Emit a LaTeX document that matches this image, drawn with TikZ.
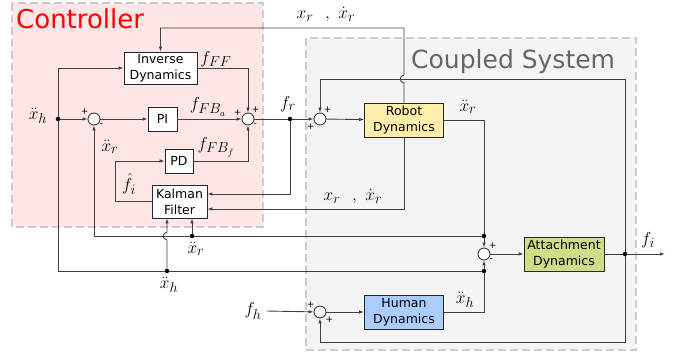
\documentclass[tikz,border=0pt]{standalone}
\usepackage{fontspec}
\usepackage{tikz}
\usetikzlibrary{shapes,arrows.meta,positioning}
\newfontfamily\dejavu{DejaVu Sans}
\definecolor{ctrlpink}{RGB}{255,230,230}
\definecolor{sysgrey}{RGB}{244,244,244}
\definecolor{zoneedge}{RGB}{204,204,204}
\definecolor{robotyellow}{RGB}{255,238,170}
\definecolor{humanblue}{RGB}{170,204,255}
\definecolor{attachgreen}{RGB}{205,222,135}
\definecolor{wiregrey}{RGB}{64,64,64}
\tikzstyle{block} = [rectangle, draw=black!85, fill=white, line width=0.8pt, align=center, inner sep=0pt, font=\dejavu\fontsize{12.5}{16}\selectfont]
\tikzstyle{sum} = [circle, draw=black!85, fill=white, line width=0.8pt, minimum size=12pt, inner sep=0pt]
\tikzstyle{tap} = [circle, fill=black, inner sep=0pt, minimum size=4.5pt]
\tikzstyle{wire} = [draw=wiregrey, line width=0.9pt]
\tikzstyle{arr} = [wire, -{Latex[length=5pt,width=3.5pt]}]
\tikzstyle{sig} = [font=\fontsize{19}{22}\selectfont, inner sep=1pt]
\tikzstyle{sgn} = [font=\dejavu\fontsize{9}{9}\selectfont, inner sep=0.5pt]
\tikzstyle{zone} = [draw=zoneedge, dash pattern=on 8pt off 4pt, line width=1.4pt]

\begin{document}
\begin{tikzpicture}[x=1pt, y=-1pt]
\useasboundingbox (0,0) rectangle (681,356);

% shaded areas
\path[zone, fill=ctrlpink] (12,3) rectangle (263,227);
\path[zone, fill=sysgrey] (306,38) rectangle (636,350);
\node[anchor=base west, inner sep=0pt, text=red, font=\dejavu\fontsize{26}{26}\selectfont] (ctrltitle) at (16,28) {Controller};
\node[anchor=base west, inner sep=0pt, text=black!60, font=\dejavu\fontsize{25}{25}\selectfont] (systitle) at (411,68) {Coupled System};

% blocks
\node[block, minimum width=73pt, minimum height=32pt] (invdyn) at (160.5,68) {Inverse\\Dynamics};
\node[block, minimum width=29pt, minimum height=24pt] (pi) at (162.5,119) {PI};
\node[block, minimum width=28pt, minimum height=24pt] (pd) at (179,161) {PD};
\node[block, minimum width=55pt, minimum height=33pt] (kalman) at (179.5,201.5) {Kalman\\Filter};
\node[block, fill=robotyellow, minimum width=79pt, minimum height=34pt] (robot) at (404,120) {Robot\\Dynamics};
\node[block, fill=humanblue, minimum width=79pt, minimum height=34pt] (human) at (404,312) {Human\\Dynamics};
\node[block, fill=attachgreen, minimum width=80pt, minimum height=34pt] (attach) at (564,254) {Attachment\\Dynamics};

% summing junctions
\node[sum, label={[sgn]140:+}, label={[sgn]-40:-}] (s1) at (94,119) {};
\node[sum, label={[sgn]155:+}, label={[sgn]60:+}, label={[sgn]-40:-}] (s2) at (248,119) {};
\node[sum, label={[sgn]60:+}, label={[sgn]-140:+}] (s3) at (320,119) {};
\node[sum, label={[sgn]50:+}, label={[sgn]-40:-}] (s4) at (484,254) {};
\node[sum, label={[sgn]140:+}, label={[sgn]-40:+}] (s5) at (320,312) {};

% branch points
\node[tap] (xh) at (58,119) {};
\node[tap] (fr) at (290,119) {};
\node[tap] (xrk) at (192,236) {};
\node[tap] (xhk) at (167,271) {};
\node[tap] (xra) at (484,236) {};
\node[tap] (xha) at (484,271) {};
\node[tap] (fi) at (625,254) {};
\coordinate (fiout) at (665,254);

% signal names
\node[sig] (lxhin) at (38,116) {$\ddot{x}_h$};
\node[sig] (lxrtop) at (326,15) {$x_r\ \ ,\ \dot{x}_r$};
\node[sig] (lfff) at (216,59) {$f_{FF}$};
\node[sig] (lfba) at (208,107) {$f_{FB_a}$};
\node[sig] (lfbf) at (216,147) {$f_{FB_f}$};
\node[sig] (lxrs1) at (110,147) {$\ddot{x}_r$};
\node[sig, inner sep=0pt] (lfhat) at (129,184) {$\hat{f}_i$};
\node[sig] (lfr) at (288,104) {$f_r$};
\node[sig] (lxrk) at (196,249) {$\ddot{x}_r$};
\node[sig] (lxhk) at (169,285) {$\ddot{x}_h$};
\node[sig] (lxrmid) at (353,197) {$x_r\ \ ,\ \dot{x}_r$};
\node[sig] (lxrrob) at (468,107) {$\ddot{x}_r$};
\node[sig] (lxhhum) at (465,300) {$\ddot{x}_h$};
\node[sig] (lfh) at (253,311) {$f_h$};
\node[sig] (lfi) at (648,240) {$f_i$};

% controller
\draw[arr] (xh) -- (s1);
\draw[arr] (xh) |- (invdyn.west);
\draw[arr] (s1) -- (pi);
\draw[arr] (pi) -- (s2);
\draw[arr] (invdyn.east) -| (s2);
\draw[arr] (pd.east) -| (s2);
\draw[arr] (kalman.west) -- ++(-36,0) |- (pd.west);
\draw[wire] (s2) -- (fr);
\draw[arr] (fr) |- (kalman.east |- 0,194);
\draw[arr] (robot.south) |- (kalman.east |- 0,209);

% coupled system
\draw[arr] (fr) -- (s3);
\draw[arr] (s3) -- (robot);
\draw[arr] ([xshift=4pt]lfh.east) -- (s5);
\draw[arr] (s5) -- (human);
\draw[arr] (s4) -- (attach);
\draw[wire] (attach) -- (fi);
\draw[arr] (fi) -- (fiout);
\draw[arr] (fi) -- (fi |- 0,79) -| (s3);
\draw[arr] (fi) -- (fi |- 0,342) -| (s5);

% position feedback, hops over the f_i line
\draw[arr] (robot.north) -- (404,83) .. controls (399,82) and (399,76) .. (404,75) -- (404,28) -| (invdyn.north);

% accelerations
\draw[wire] (robot.east) -| (xra);
\draw[arr] (xra) -- (s4);
\draw[wire] (xra) -- (xrk);
\draw[arr] (xrk) -| (s1);
\draw[arr] (xrk) -- (xrk |- kalman.south);
\draw[wire] (xh) |- (xhk);
\draw[wire] (xhk) -- (xha);
\draw[wire] (human.east) -| (xha);
\draw[arr] (xha) -- (s4);
\draw[arr] (xhk) -- (167,240) .. controls (162,239) and (162,233) .. (167,232) -- (xhk |- kalman.south);
\end{tikzpicture}
\end{document}
